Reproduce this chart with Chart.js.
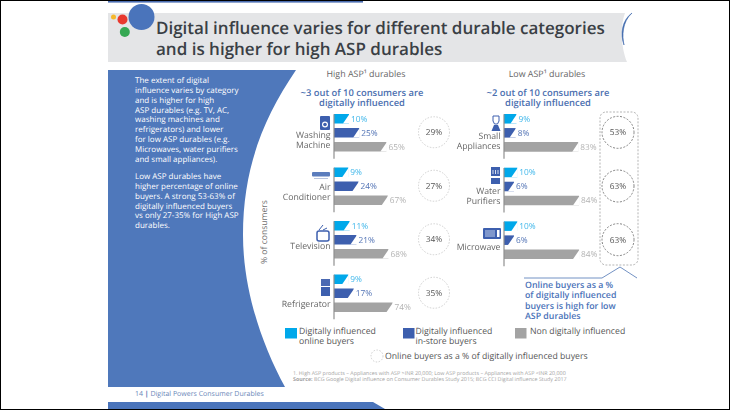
<!DOCTYPE html>
<html><head><meta charset="utf-8">
<script src="https://cdn.jsdelivr.net/npm/chart.js@4"></script>
<style>
html,body{margin:0;padding:0;background:#fff}
#page{position:relative;width:730px;height:410px;overflow:hidden;background:#fff;font-family:"Open Sans",sans-serif;text-rendering:geometricPrecision}
#frame{position:absolute;left:0;top:0;width:728px;height:408px;border:1px solid #000;z-index:9;pointer-events:none}
svg.bg{position:absolute;left:0;top:0}
canvas{position:absolute}
.t{position:absolute;white-space:nowrap}
.c{transform:translateX(-50%);text-align:center}
.body{color:#fff;font-size:8px;line-height:9.85px;left:135px}
.head{color:#666;font-size:8.9px;line-height:11px}
.sub{color:#4c70b0;font-size:9.4px;line-height:10px;font-weight:600}
.leg{color:#555;font-size:8.7px;line-height:9.8px}
.foot{color:#a3a3a3;font-size:5.35px;line-height:6.4px;left:293px}
</style></head><body>
<div id="page">
<svg class="bg" width="730" height="410">
  <rect x="108" y="1" width="255" height="1.6" fill="#4a6cb0"/>
  <path d="M108 13H625C620 26 621 48 627 62H108Z" fill="#e4e5e7"/>
  <path d="M632 13C622 22 622 36 624 45C620 34 622 20 632 13Z" fill="#3f69ac" stroke="#3f69ac" stroke-width=".6"/>
  <circle cx="113.500" cy="17" r="2.500" fill="#f5b82e"/>
  <circle cx="122.500" cy="19.500" r="5" fill="#e8392f"/>
  <circle cx="124.800" cy="32" r="5" fill="#35a853"/>
  <circle cx="141.500" cy="17" r="13" fill="#4a74bb"/>
  <path d="M108 70H296C262 120 243 170 243 235C243 290 262 345 285 387H108Z" fill="#4f78bb"/>
  <path d="M108 402H373L385 409H108Z" fill="#4a74bb"/>
  <rect x="600" y="112" width="38" height="153" rx="6" fill="none" stroke="#b5b5b5" stroke-width="1" stroke-dasharray="2 1.500"/>
  <path d="M524 278H602L620 267L637 278" fill="none" stroke="#7392c4" stroke-width="1"/>
  <rect x="285" y="328" width="12" height="10.500" fill="#00a8ea"/>
  <rect x="403" y="328" width="11.500" height="10.500" fill="#3d5fae"/>
  <rect x="515" y="328" width="11.500" height="10.500" fill="#a3a3a3"/>
  <circle cx="377" cy="356" r="6" fill="none" stroke="#c4c4c4" stroke-width=".8" stroke-dasharray="1.500 1.500"/>
  <!-- icons -->
  <g fill="#3d5fae">
    <rect x="320" y="116" width="10" height="14" rx="1"/><circle cx="325" cy="124.500" r="3" fill="#fff"/><circle cx="325" cy="124.500" r="1.800"/>
    <rect x="312" y="172" width="18" height="4.500" rx="1" fill="#5b7dbd"/><rect x="314" y="178" width="14" height="1" fill="#b8c4de"/>
    <rect x="317" y="231" width="12" height="10" rx="2" fill="none" stroke="#3d5fae" stroke-width="1.500"/><path d="M319 230L323 225M323 230L327 228" stroke="#3d5fae" stroke-width="1"/>
    <rect x="321" y="279" width="9" height="7" fill="#4a69b2"/><rect x="321" y="287" width="9" height="9" fill="#3d5fae"/>
    <path d="M493 116h6v5l-1.500 3h-3l-1.500 -3z" fill="none" stroke="#3d5fae" stroke-width="1"/><path d="M491.500 131l2.500-6h4l2.500 6z"/>
    <rect x="491" y="167" width="9" height="9"/><rect x="491" y="178" width="9" height="6"/><path d="M493 170v4M495.500 170v4M498 170v4" stroke="#fff" stroke-width=".8"/>
    <rect x="483" y="228" width="18" height="11" rx="1"/><rect x="485" y="230" width="10" height="7" fill="#7f97cc"/><rect x="497" y="230" width="2.500" height="7" fill="#fff"/>
  </g>
</svg>

<div class="t" style="left:156px;top:17px;font-size:17px;line-height:21px;font-weight:600;color:#3a3f45">Digital influence varies for different durable categories<br>and is higher for high ASP durables</div>

<div class="t body" style="top:76px">The extent of digital<br>influence varies by category<br>and is higher for high<br>ASP durables (e.g. TV, AC,<br>washing machines and<br>refrigerators) and lower<br>for low ASP durables (e.g.<br>Microwaves, water purifiers<br>and small appliances).</div>
<div class="t body" style="top:172px">Low ASP durables have<br>higher percentage of online<br>buyers. A strong 53-63% of<br>digitally influenced buyers<br>vs only 27-35% for High ASP<br>durables.</div>

<div class="t head c" style="left:366px;top:68px">High ASP¹ durables</div>
<div class="t head c" style="left:547px;top:68px">Low ASP¹ durables</div>
<div class="t sub c" style="left:362px;top:88px">~3 out of 10 consumers are<br>digitally influenced</div>
<div class="t sub c" style="left:548px;top:88px">~2 out of 10 consumers are<br>digitally influenced</div>
<div class="t" style="left:264px;top:232px;font-size:8.6px;color:#707070;transform:translate(-50%,-50%) rotate(-90deg)">% of consumers</div>

<div class="t sub" style="left:525px;top:280px;line-height:10.300px;font-size:8.800px;color:#4a72b8">Online buyers as a %<br>of digitally influenced<br>buyers is high for low<br>ASP durables</div>

<div class="t leg" style="left:299px;top:327px">Digitally influenced<br>online buyers</div>
<div class="t leg" style="left:415.500px;top:327px">Digitally influenced<br>in-store buyers</div>
<div class="t leg" style="left:530px;top:327px">Non digitally influenced</div>
<div class="t leg" style="left:385px;top:352px">Online buyers as a % of digitally influenced buyers</div>

<div class="t foot" style="top:370px">1. High ASP products – Appliances with ASP &gt;INR 20,000; Low ASP products – Appliances with ASP &lt;INR 20,000<br><b>Source:</b> BCG Google Digital influence on Consumer Durables Study 2015; BCG CCI Digital influence Study 2017</div>
<div class="t" style="left:135px;top:390px;font-size:7px;color:#6a87b8">14 <b style="color:#4a6cb0">|</b> Digital Powers Consumer Durables</div>

<canvas id="high" style="left:270px;top:106px"></canvas>
<canvas id="low" style="left:450px;top:106px"></canvas>
<div id="frame"></div>
</div>
<script>
const highCategories = ["Washing Machine", "Air Conditioner", "Television", "Refrigerator"];
const highOnline = [10, 9, 11, 9];
const highInstore = [25, 24, 21, 17];
const highNon = [65, 67, 68, 74];
const highShare = [29, 27, 34, 35];

const lowCategories = ["Small Appliances", "Water Purifiers", "Microwave"];
const lowOnline = [9, 10, 10];
const lowInstore = [8, 6, 6];
const lowNon = [83, 84, 84];
const lowShare = [53, 63, 63];

const seriesNames = ["Digitally influenced online buyers", "Digitally influenced in-store buyers", "Non digitally influenced"];
const seriesColors = ["#00a8ea", "#3d5fae", "#a3a3a3"];
const labelColors = ["#3db6ea", "#5273b5", "#b3b3b3"];

const marks = {
  id: "marks",
  afterDatasetsDraw(chart, args, o) {
    const ctx = chart.ctx, y = chart.scales.y, x0 = chart.chartArea.left;
    ctx.save();
    ctx.textRendering = "geometricPrecision";
    chart.data.datasets.forEach((ds, di) => {
      chart.getDatasetMeta(di).data.forEach((bar, i) => {
        const top = bar.y - bar.height / 2, bot = bar.y + bar.height / 2;
        ctx.fillStyle = "#fff";
        ctx.beginPath(); ctx.moveTo(bar.x + .5, top); ctx.lineTo(bar.x + .5, bot); ctx.lineTo(bar.x - 6, bot); ctx.closePath(); ctx.fill();
        ctx.fillStyle = labelColors[di];
        ctx.font = '8.3px "Open Sans"';
        ctx.textAlign = "left"; ctx.textBaseline = "middle";
        ctx.fillText(ds.data[i] + "%", bar.x + 2, bar.y + .5);
      });
    });
    chart.data.labels.forEach((label, i) => {
      const c = y.getPixelForValue(i);
      ctx.strokeStyle = "#8f8f8f"; ctx.lineWidth = 1.2;
      ctx.beginPath(); ctx.moveTo(x0, c - 18.5); ctx.lineTo(x0, c + 26); ctx.stroke();
      ctx.fillStyle = "#666"; ctx.font = '8.7px "Open Sans"';
      ctx.textAlign = "right"; ctx.textBaseline = "middle";
      const lines = o.lines[i];
      const yy = c + o.labelOffset[i];
      lines.forEach((ln, k) => ctx.fillText(ln, x0 - 3.5, yy + (k - (lines.length - 1) / 2) * 10));
      ctx.beginPath(); ctx.setLineDash(o.dash); ctx.lineWidth = o.lw;
      ctx.strokeStyle = o.ring; ctx.arc(o.cx, c - .5, o.r, 0, Math.PI * 2); ctx.stroke(); ctx.setLineDash([]);
      ctx.fillStyle = "#555"; ctx.textAlign = "center"; ctx.font = '8.3px "Open Sans"';
      ctx.fillText(o.share[i] + "%", o.cx, c);
    });
    ctx.restore();
  }
};

function draw(id, w, h, pad, labels, a, b, c, min, max, markOpts) {
  const el = document.getElementById(id);
  el.width = w; el.height = h;
  new Chart(el, {
    type: "bar",
    data: { labels, datasets: [a, b, c].map((d, i) => ({
      label: seriesNames[i], data: d, backgroundColor: seriesColors[i], base: min,
      barPercentage: .68, categoryPercentage: .785, borderWidth: 0 })) },
    options: {
      indexAxis: "y", responsive: false, animation: false,
      layout: { padding: { left: pad, right: 0, top: 0, bottom: 0 } },
      scales: {
        x: { display: false, min, max },
        y: { display: false, grid: { display: false } }
      },
      plugins: { legend: { display: false }, tooltip: { enabled: false }, marks: markOpts }
    },
    plugins: [marks]
  });
}

draw("high", 190, 214.500, 64, highCategories, highOnline, highInstore, highNon, -12, 173, {
  lines: [["Washing", "Machine"], ["Air", "Conditioner"], ["Television"], ["Refrigerator"]],
  labelOffset: [8, 6, 7, 11], share: highShare, cx: 164, r: 15.500,
  ring: "#c9c9c9", dash: [1.5, 1.5], lw: .9
});
draw("low", 190, 161, 54, lowCategories, lowOnline, lowInstore, lowNon, -6, 157, {
  lines: [["Small", "Appliances"], ["Water", "Purifiers"], ["Microwave"]],
  labelOffset: [9, 10, 7], share: lowShare, cx: 168, r: 16,
  ring: "#777", dash: [2, 1.5], lw: .9
});
</script>
</body></html>
